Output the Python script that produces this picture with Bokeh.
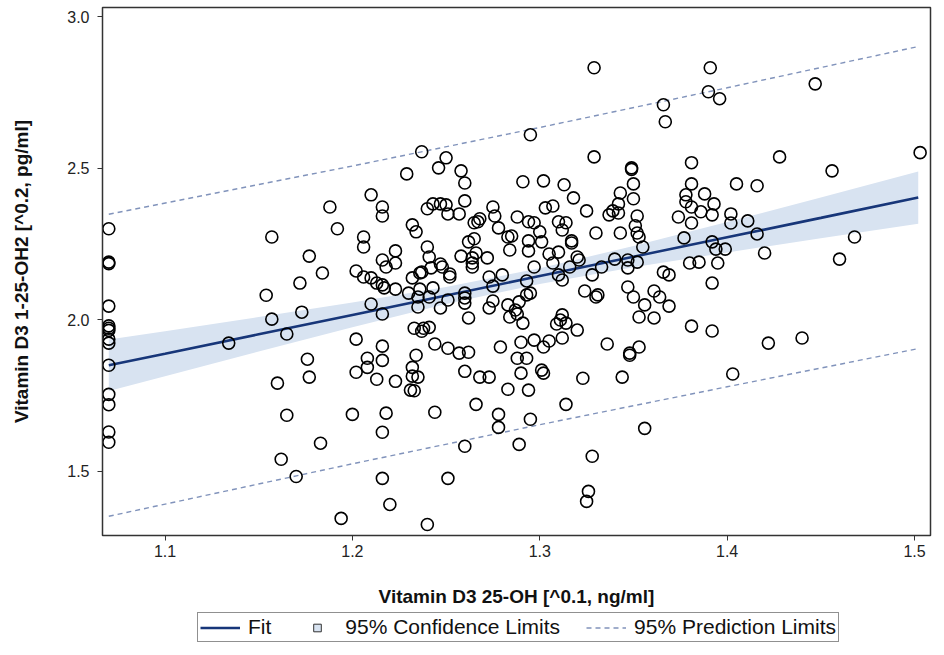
from bokeh.plotting import figure
from bokeh.layouts import column
from bokeh.models import Range1d, FixedTicker, Legend, LegendItem, NumeralTickFormatter
from bokeh.embed import file_html
from bokeh.resources import INLINE

# ---- observed points (Vitamin D3 25-OH ^0.1, Vitamin D3 1-25-OH2 ^0.2) ----
pts = [
    # x = 1.07 column
    (1.070, 2.300), (1.070, 2.190), (1.070, 2.185), (1.070, 2.045), (1.070, 1.980), (1.070, 1.972),
    (1.070, 1.965), (1.070, 1.936), (1.070, 1.923), (1.070, 1.850), (1.070, 1.754), (1.070, 1.720),
    (1.070, 1.630), (1.070, 1.596),
    # left scattered
    (1.134, 1.923), (1.154, 2.081), (1.157, 2.273), (1.157, 2.002), (1.165, 1.953), (1.172, 2.121),
    (1.173, 2.025), (1.177, 2.210), (1.176, 1.870), (1.160, 1.791), (1.165, 1.685), (1.162, 1.540),
    (1.170, 1.483), (1.177, 1.811),
    # upper region
    (1.237, 2.554), (1.250, 2.534), (1.246, 2.501), (1.229, 2.481), (1.258, 2.491), (1.260, 2.451),
    (1.329, 2.831), (1.391, 2.831), (1.390, 2.752), (1.396, 2.729), (1.366, 2.709), (1.367, 2.653),
    (1.295, 2.610), (1.329, 2.537), (1.349, 2.501), (1.349, 2.496), (1.381, 2.518), (1.291, 2.455),
    (1.302, 2.458), (1.313, 2.445), (1.350, 2.448), (1.381, 2.448),
    (1.447, 2.778), (1.428, 2.537), (1.456, 2.491), (1.503, 2.551), (1.405, 2.448), (1.416, 2.442),
    # middle-left cluster
    (1.210, 2.412), (1.188, 2.372), (1.216, 2.372), (1.216, 2.342), (1.260, 2.392), (1.240, 2.366),
    (1.243, 2.382), (1.247, 2.382), (1.250, 2.379), (1.251, 2.349), (1.257, 2.349), (1.275, 2.372),
    (1.276, 2.342), (1.278, 2.303), (1.265, 2.320), (1.267, 2.323), (1.268, 2.333), (1.192, 2.300),
    (1.232, 2.313), (1.234, 2.290), (1.206, 2.273), (1.206, 2.240), (1.240, 2.240), (1.262, 2.257),
    (1.265, 2.267), (1.283, 2.273), (1.285, 2.276), (1.284, 2.230), (1.223, 2.227), (1.266, 2.220),
    (1.258, 2.210), (1.241, 2.207), (1.216, 2.197), (1.223, 2.187), (1.218, 2.174), (1.264, 2.204),
    (1.264, 2.187), (1.264, 2.174), (1.272, 2.204), (1.247, 2.184), (1.248, 2.174), (1.242, 2.171),
    (1.237, 2.157), (1.236, 2.154), (1.252, 2.151), (1.252, 2.141), (1.184, 2.154), (1.202, 2.161),
    (1.206, 2.141), (1.210, 2.138), (1.213, 2.121), (1.216, 2.115), (1.217, 2.105), (1.223, 2.101),
    (1.232, 2.138), (1.230, 2.088), (1.236, 2.101), (1.243, 2.105), (1.235, 2.075), (1.241, 2.075),
    (1.273, 2.141), (1.280, 2.148), (1.275, 2.111), (1.260, 2.088), (1.260, 2.072), (1.260, 2.055),
    (1.251, 2.065), (1.275, 2.062), (1.210, 2.052), (1.235, 2.042), (1.247, 2.039), (1.283, 2.049),
    (1.284, 2.009), (1.273, 2.039), (1.216, 2.019), (1.262, 2.006), (1.233, 1.972), (1.237, 1.962),
    (1.238, 1.972), (1.241, 1.975), (1.202, 1.936), (1.216, 1.913), (1.244, 1.920), (1.251, 1.906),
    (1.257, 1.890), (1.262, 1.893), (1.279, 1.910), (1.208, 1.873), (1.216, 1.866), (1.234, 1.883),
    # lower-left region
    (1.208, 1.843), (1.202, 1.827), (1.213, 1.804), (1.223, 1.797), (1.232, 1.843), (1.232, 1.814),
    (1.235, 1.811), (1.231, 1.768), (1.233, 1.766), (1.260, 1.830), (1.268, 1.811), (1.273, 1.811),
    (1.283, 1.771), (1.266, 1.721), (1.278, 1.688), (1.278, 1.645), (1.200, 1.688), (1.218, 1.692),
    (1.216, 1.629), (1.244, 1.695), (1.183, 1.593), (1.260, 1.583), (1.289, 1.589), (1.216, 1.477),
    (1.251, 1.477), (1.220, 1.391), (1.194, 1.345), (1.240, 1.325),
    # lower-middle region
    (1.288, 1.873), (1.293, 1.873), (1.348, 1.883), (1.290, 1.824), (1.301, 1.834), (1.302, 1.824),
    (1.294, 1.768), (1.323, 1.807), (1.344, 1.811), (1.314, 1.721), (1.295, 1.672), (1.356, 1.642),
    (1.328, 1.550), (1.326, 1.434), (1.325, 1.401), (1.403, 1.821),
    # middle-right cluster
    (1.318, 2.402), (1.343, 2.418), (1.350, 2.399), (1.378, 2.412), (1.378, 2.389), (1.381, 2.372),
    (1.388, 2.415), (1.393, 2.382), (1.303, 2.369), (1.307, 2.375), (1.325, 2.359), (1.337, 2.346),
    (1.339, 2.359), (1.342, 2.352), (1.342, 2.382), (1.352, 2.342), (1.374, 2.339), (1.386, 2.356),
    (1.392, 2.346), (1.381, 2.319), (1.288, 2.339), (1.294, 2.323), (1.297, 2.320), (1.310, 2.323),
    (1.314, 2.320), (1.312, 2.296), (1.300, 2.290), (1.330, 2.286), (1.343, 2.286), (1.351, 2.310),
    (1.352, 2.286), (1.353, 2.273), (1.355, 2.240), (1.294, 2.260), (1.301, 2.257), (1.317, 2.260),
    (1.317, 2.253), (1.294, 2.227), (1.305, 2.217), (1.310, 2.223), (1.320, 2.207), (1.321, 2.197),
    (1.307, 2.187), (1.297, 2.174), (1.316, 2.174), (1.310, 2.148), (1.312, 2.131), (1.293, 2.128),
    (1.328, 2.148), (1.333, 2.174), (1.340, 2.200), (1.347, 2.197), (1.347, 2.171), (1.352, 2.190),
    (1.377, 2.270), (1.380, 2.187), (1.385, 2.190), (1.392, 2.257), (1.394, 2.233), (1.395, 2.187),
    (1.366, 2.157), (1.369, 2.148), (1.392, 2.121), (1.347, 2.108), (1.324, 2.095), (1.331, 2.082),
    (1.330, 2.075), (1.350, 2.075), (1.361, 2.095), (1.364, 2.075), (1.293, 2.082), (1.295, 2.088),
    (1.289, 2.059), (1.287, 2.032), (1.288, 2.019), (1.356, 2.049), (1.369, 2.045),
    (1.291, 1.989), (1.309, 1.986), (1.311, 1.999), (1.312, 2.016), (1.314, 1.989), (1.353, 2.009),
    (1.361, 2.006), (1.320, 1.966), (1.381, 1.979), (1.392, 1.963), (1.290, 1.926), (1.297, 1.933),
    (1.305, 1.930), (1.302, 1.910), (1.312, 1.940), (1.336, 1.920), (1.353, 1.910), (1.348, 1.890),
    # right region
    (1.402, 2.349), (1.402, 2.319), (1.411, 2.326), (1.416, 2.283), (1.399, 2.233), (1.420, 2.220),
    (1.468, 2.273), (1.460, 2.200), (1.440, 1.940), (1.422, 1.923),
]
x_obs = [p_[0] for p_ in pts]
y_obs = [p_[1] for p_ in pts]

# ---- fitted line and limits ----
fit_x   = [1.070, 1.100, 1.150, 1.200, 1.250, 1.300, 1.350, 1.400, 1.450, 1.502]
fit_y   = [1.850, 1.888, 1.952, 2.016, 2.080, 2.144, 2.208, 2.272, 2.336, 2.403]
conf_lo = [1.765, 1.814, 1.895, 1.975, 2.052, 2.118, 2.173, 2.222, 2.269, 2.317]
conf_hi = [1.935, 1.962, 2.009, 2.057, 2.108, 2.170, 2.243, 2.322, 2.403, 2.489]
pred_x  = [1.070, 1.200, 1.300, 1.400, 1.502]
pred_lo = [1.352, 1.525, 1.654, 1.779, 1.905]
pred_hi = [2.348, 2.507, 2.634, 2.765, 2.901]

x_ticks = [1.1, 1.2, 1.3, 1.4, 1.5]
y_ticks = [1.5, 2.0, 2.5, 3.0]
legend_labels = ["Fit", "95% Confidence Limits", "95% Prediction Limits"]

FONT = "Liberation Sans"
FIT_COLOR = "#173679"
BAND_COLOR = "#d8e3f1"
PRED_COLOR = "#8193bb"
NAN = float("nan")

p = figure(width=944, height=612,
           x_range=Range1d(1.06664, 1.50854), y_range=Range1d(1.2886, 3.0297),
           output_backend="svg", toolbar_location=None,
           min_border_left=102, min_border_right=14, min_border_top=7, min_border_bottom=77)
p.grid.visible = False
p.outline_line_color = "#333333"
p.outline_line_width = 1.5

p.varea(x=fit_x, y1=conf_lo, y2=conf_hi, fill_color=BAND_COLOR)
p.line(pred_x, pred_lo, line_color=PRED_COLOR, line_width=1.4, line_dash="5 4")
p.line(pred_x, pred_hi, line_color=PRED_COLOR, line_width=1.4, line_dash="5 4")
p.line(fit_x, fit_y, line_color=FIT_COLOR, line_width=2.6)
p.scatter(x_obs, y_obs, marker="circle", size=12, fill_color=None,
          line_color="black", line_width=1.6)

for ax in (p.xaxis[0], p.yaxis[0]):
    ax.axis_line_color = "#333333"
    ax.major_tick_line_color = "#333333"
    ax.major_tick_out = 5
    ax.major_tick_in = 0
    ax.minor_tick_line_color = None
    ax.major_label_text_font = FONT
    ax.major_label_text_font_size = "16px"
    ax.major_label_text_color = "#222222"
    ax.axis_label_text_font = FONT
    ax.axis_label_text_font_size = "19px"
    ax.axis_label_text_font_style = "bold"
    ax.axis_label_text_color = "#111111"
    ax.major_label_standoff = 4

p.yaxis.major_label_standoff = 8
p.xaxis.ticker = FixedTicker(ticks=x_ticks)
p.yaxis.ticker = FixedTicker(ticks=y_ticks)
p.xaxis.formatter = NumeralTickFormatter(format="0.0")
p.yaxis.formatter = NumeralTickFormatter(format="0.0")
p.xaxis.axis_label = "Vitamin D3 25-OH [^0.1, ng/ml]"
p.yaxis.axis_label = "Vitamin D3 1-25-OH2 [^0.2, pg/ml]"
p.xaxis.axis_label_standoff = 26
p.yaxis.axis_label_standoff = 32

# ---- legend strip below the plot ----
lg = figure(width=944, height=43, x_range=Range1d(0, 1), y_range=Range1d(0, 1),
            output_backend="svg", toolbar_location=None,
            x_axis_location=None, y_axis_location=None,
            min_border=0, outline_line_color=None)
lg.grid.visible = False
r_fit = lg.line([NAN, NAN], [NAN, NAN], line_color=FIT_COLOR, line_width=2.6)
r_conf = lg.scatter([NAN], [NAN], marker="square", size=13, fill_color=BAND_COLOR,
                    line_color="#333333", line_width=1)
r_pred = lg.line([NAN, NAN], [NAN, NAN], line_color=PRED_COLOR, line_width=1.4, line_dash="5 4")

legend = Legend(items=[
    LegendItem(label=legend_labels[0], renderers=[r_fit]),
    LegendItem(label=legend_labels[1], renderers=[r_conf]),
    LegendItem(label=legend_labels[2], renderers=[r_pred]),
], orientation="horizontal", location=(95, 13))
legend.border_line_color = "#222222"
legend.border_line_width = 1
legend.label_text_font = FONT
legend.label_text_font_size = "21px"
legend.label_text_color = "#111111"
legend.glyph_width = 40
legend.glyph_height = 19
legend.spacing = 26
legend.padding = 2
legend.margin = 0
legend.label_standoff = 8
legend.label_height = 19
lg.add_layout(legend, "center")

layout = column(p, lg, spacing=0)
open("out.html", "w").write(file_html(layout, INLINE))
